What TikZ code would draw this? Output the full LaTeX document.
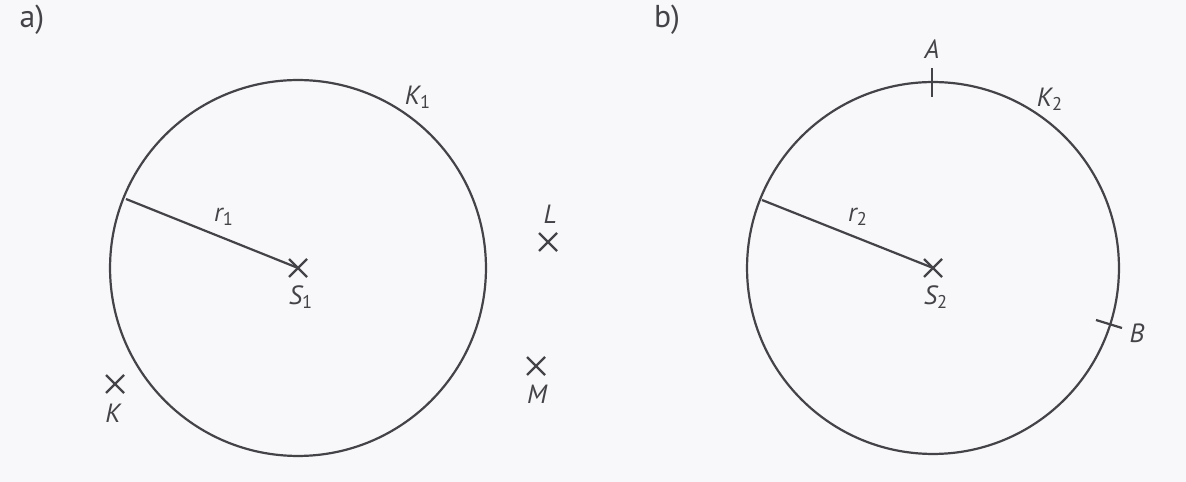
\documentclass[tikz,border=0pt]{standalone}
\usepackage{fontspec}
\setmainfont{PT Sans}
\usetikzlibrary{calc}
\definecolor{ink}{RGB}{68,68,72}
\definecolor{paper}{RGB}{248,248,250}
\newcommand{\sbs}[1]{\textsubscript{\upshape #1}}
\begin{document}
\begin{tikzpicture}[x=0.02cm,y=-0.02cm,
  line/.style={draw=ink,line width=1.25pt},
  lbl/.style={text=ink,font=\fontsize{15}{17}\selectfont\itshape,inner sep=0pt},
  part/.style={text=ink,font=\fontsize{18}{20}\selectfont,inner sep=0pt}]
\fill[paper] (0,0) rectangle (1186,482);
\useasboundingbox (0,0) rectangle (1186,482);
% ---- a)
\node[part] (la) at (32,20) {a)};
\coordinate (S1) at (298,268);
\draw[line] (S1) circle[radius=3.76cm];
\coordinate (R1) at ($(S1)+(-172,-69)$);
\draw[line] (R1) -- (S1);
\draw[line] ($(S1)+(-9,-9)$) -- ($(S1)+(9,9)$) ($(S1)+(-9,9)$) -- ($(S1)+(9,-9)$);
\node[lbl] (r1) at (224,217) {r\sbs{1}};
\node[lbl] (s1) at (301,297) {S\sbs{1}};
\node[lbl] (k1) at (418,97) {K\sbs{1}};
\coordinate (L) at (548,242);
\draw[line] ($(L)+(-9,-9)$) -- ($(L)+(9,9)$) ($(L)+(-9,9)$) -- ($(L)+(9,-9)$);
\node[lbl] (lL) at (550,214) {L};
\coordinate (M) at (536,366);
\draw[line] ($(M)+(-9,-9)$) -- ($(M)+(9,9)$) ($(M)+(-9,9)$) -- ($(M)+(9,-9)$);
\node[lbl] (lM) at (537,394) {M};
\coordinate (K) at (115,384);
\draw[line] ($(K)+(-9,-9)$) -- ($(K)+(9,9)$) ($(K)+(-9,9)$) -- ($(K)+(9,-9)$);
\node[lbl] (lK) at (113,413) {K};
% ---- b)
\node[part] (lb) at (667,20) {b)};
\coordinate (S2) at (933,268);
\draw[line] (S2) circle[radius=3.72cm];
\coordinate (R2) at ($(S2)+(-171,-68)$);
\draw[line] (R2) -- (S2);
\draw[line] ($(S2)+(-9,-9)$) -- ($(S2)+(9,9)$) ($(S2)+(-9,9)$) -- ($(S2)+(9,-9)$);
\node[lbl] (r2) at (858,217) {r\sbs{2}};
\node[lbl] (s2) at (936,297) {S\sbs{2}};
\node[lbl] (k2) at (1050,99) {K\sbs{2}};
\coordinate (A1) at (932,68);
\coordinate (A2) at (932,97);
\draw[line] (A1) -- (A2);
\node[lbl] (lA) at (932,49) {A};
\coordinate (B1) at (1096,320);
\coordinate (B2) at (1122,328);
\draw[line] (B1) -- (B2);
\node[lbl] (lB) at (1137,333) {B};
\end{tikzpicture}
\end{document}
